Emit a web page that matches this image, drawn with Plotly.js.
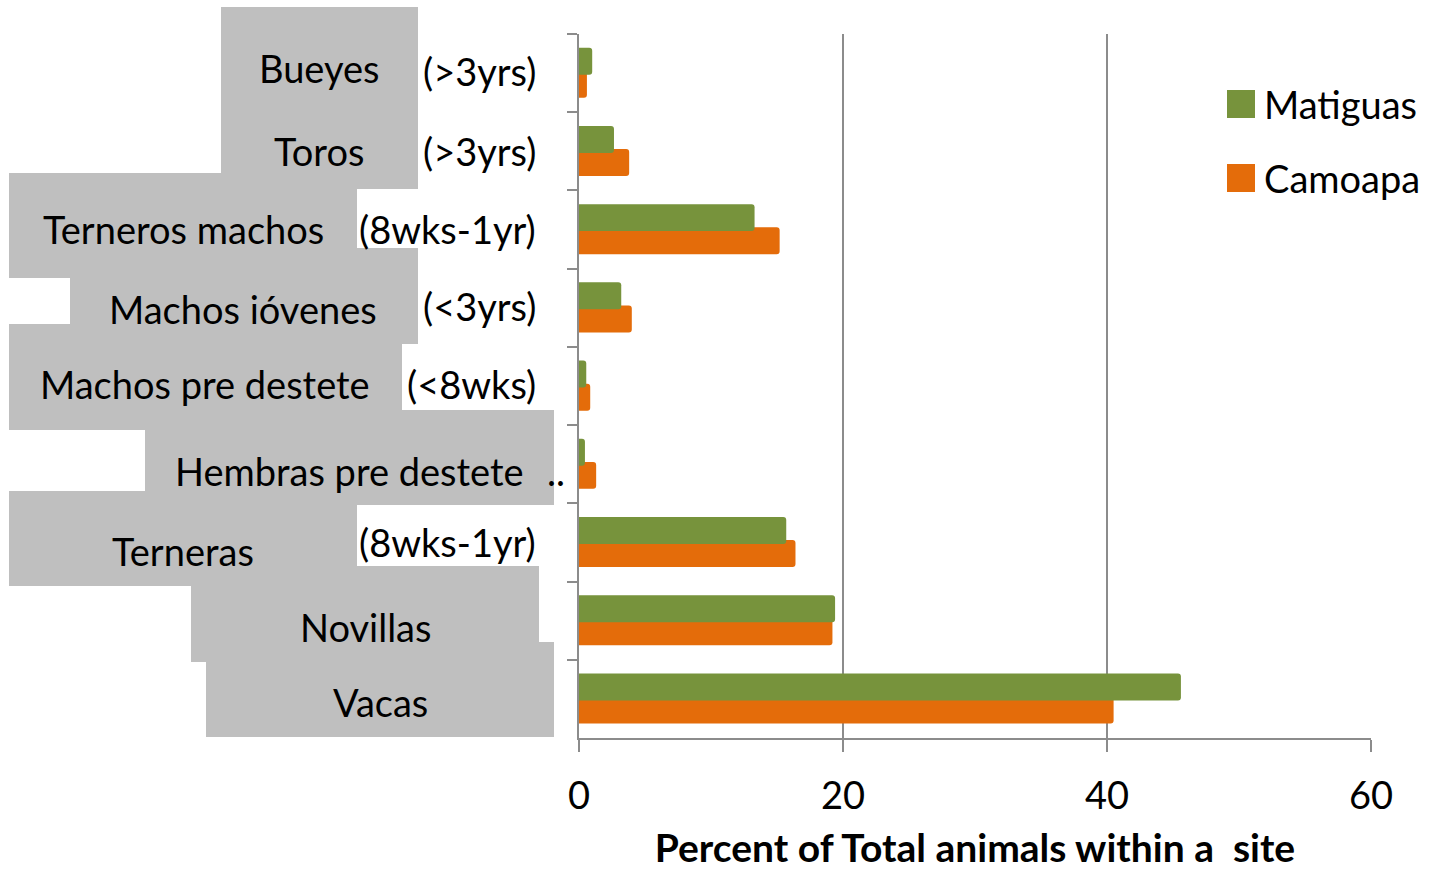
<!DOCTYPE html>
<html>
<head>
<meta charset="utf-8">
<script src="https://cdn.plot.ly/plotly-3.0.1.min.js"></script>
<style>html,body{margin:0;padding:0;background:#fff;}#chart{width:1429px;height:870px;}</style>
</head>
<body>
<div id="chart"></div>
<script>
// ---- data ----
const categories = ["Bueyes","Toros","Terneros machos","Machos ióvenes","Machos pre destete","Hembras pre destete","Terneras","Novillas","Vacas"];
const ageLabels = ["(>3yrs)","(>3yrs)","(8wks-1yr)","(<3yrs)","(<8wks)","..","(8wks-1yr)","",""];
const matiguas = [1.0, 2.65, 13.3, 3.2, 0.55, 0.45, 15.7, 19.4, 45.6];
const camoapa  = [0.6, 3.8, 15.2, 4.0, 0.85, 1.3, 16.4, 19.2, 40.5];
const seriesNames = ["Matiguas","Camoapa"];
const xTicks = [0, 20, 40, 60];
const xTitle = "Percent of Total animals within a  site";

// ---- layout helpers (pixel geometry) ----
const W = 1429, H = 870, L = 579, R = 1371, T = 34, B = 738;
const px = x => (x - L) / (R - L);
const py = y => (B - y) / (B - T);
const FONT = "Lato, 'Open Sans', sans-serif";
const FS = 38;
const GREEN = "#77933C", ORANGE = "#E46C0A", GRID = "#8C8C8C", BOX = "#BFBFBF";

// gray label boxes [x0,x1,y0,y1] in px
const boxes = [
  [221,418,7,189],[9,357,173,278],[70,418,248,344],[9,402,324,430],
  [145,554,410,505],[9,357,491,586],[191,539,566,662],[206,554,642,737]
];
// label positions [centerX, centerY] for names; [rightX, centerY] for ages
const namePos = [[319,68],[319,151],[183,229],[243,309],[205,384],[349,471],[183,551],[365,627],[380,702]];
const agePos = [[538,71],[538,151],[538,229],[538,306],[538,384],[567,471],[538,542],[538,0],[538,0]];

const shapes = boxes.map(b => ({type:"rect", xref:"paper", yref:"paper",
  x0:px(b[0]), x1:px(b[1]), y0:py(b[3]), y1:py(b[2]), fillcolor:BOX, line:{width:0}, layer:"above"}));

const annotations = [];
categories.forEach((c,i) => {
  annotations.push({xref:"paper", yref:"paper", x:px(namePos[i][0]), y:py(namePos[i][1]),
    xanchor:"center", yanchor:"middle", text:c, showarrow:false, font:{family:FONT, size:FS, color:"#000"}});
  if (ageLabels[i]) annotations.push({xref:"paper", yref:"paper", x:px(agePos[i][0]), y:py(agePos[i][1]),
    xanchor:"right", yanchor:"middle", text:ageLabels[i], showarrow:false, font:{family:FONT, size:FS, color:"#000"}});
});

// manual legend
const legendColors = [GREEN, ORANGE];
const legendY = [104, 178];
seriesNames.forEach((n,i) => {
  shapes.push({type:"rect", xref:"paper", yref:"paper", x0:px(1227), x1:px(1255), y0:py(legendY[i]+14), y1:py(legendY[i]-14),
    fillcolor:legendColors[i], line:{width:0}, layer:"above"});
  annotations.push({xref:"paper", yref:"paper", x:px(1262), y:py(legendY[i]), xanchor:"left", yanchor:"middle",
    text:n, showarrow:false, font:{family:FONT, size:FS, color:"#000"}});
});

const traces = [
  {type:"bar", orientation:"h", name:seriesNames[1], y:categories, x:camoapa,
   marker:{color:ORANGE, cornerradius:3}, offset:-0.03, width:0.345, showlegend:false, hoverinfo:"x+name"},
  {type:"bar", orientation:"h", name:seriesNames[0], y:categories, x:matiguas,
   marker:{color:GREEN, cornerradius:3}, offset:-0.325, width:0.345, showlegend:false, hoverinfo:"x+name"}
];

const layout = {
  width:W, height:H, autosize:false,
  margin:{l:L, r:W-R, t:T, b:H-B, pad:0},
  paper_bgcolor:"#fff", plot_bgcolor:"#fff",
  barmode:"overlay",
  showlegend:false,
  font:{family:FONT, color:"#000"},
  xaxis:{range:[0,60], tickvals:xTicks, ticktext:xTicks.map(String), showgrid:true, gridcolor:GRID, gridwidth:2,
    zeroline:false, showline:true, linecolor:GRID, linewidth:2, ticks:"outside", ticklen:12, tickwidth:2, tickcolor:GRID,
    tickfont:{family:FONT, size:FS, color:"#000"}, ticklabelstandoff:11, automargin:false,
    title:{text:xTitle, font:{family:FONT, size:39, color:"#000", weight:"bold"}, standoff:23}},
  yaxis:{type:"category", categoryarray:categories, categoryorder:"array", autorange:"reversed",
    showticklabels:false, showline:true, linecolor:GRID, linewidth:2, ticks:"outside", ticklen:10, tickwidth:2, tickcolor:GRID,
    tickson:"boundaries", showgrid:false, zeroline:false, automargin:false},
  shapes:shapes,
  annotations:annotations
};

Plotly.newPlot("chart", traces, layout, {displayModeBar:false, staticPlot:true});
</script>
</body>
</html>
